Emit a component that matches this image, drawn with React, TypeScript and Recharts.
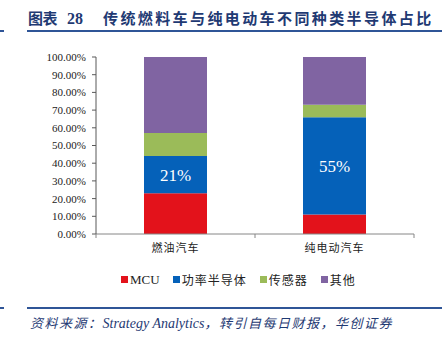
import { BarChart, Bar, XAxis, YAxis, LabelList } from "recharts";

const categories = ["燃油汽车", "纯电动汽车"];
const mcu = [23, 11];
const power = [21, 55];
const sensor = [13, 7];
const other = [43, 27];
const yTicks = [0, 10, 20, 30, 40, 50, 60, 70, 80, 90, 100];

const seriesNames = ["MCU", "功率半导体", "传感器", "其他"];
const seriesColors = ["#E3121B", "#0561B9", "#9BBB59", "#8064A2"];

const chartData = categories.map((name, i) => ({
  name,
  mcu: mcu[i],
  power: power[i],
  sensor: sensor[i],
  other: other[i],
}));

const PLOT_LEFT = 96;
const PLOT_RIGHT = 414;
const HALF_BAND = (PLOT_RIGHT - PLOT_LEFT) / categories.length / 2;
const TICK_SIZE = 4;
const TICK_MARGIN = 5;

const CategoryTick = (props: any) => {
  const { x, y, payload, index } = props;
  const axisY = y - TICK_SIZE - TICK_MARGIN;
  return (
    <g>
      {index === 0 && (
        <line x1={x - HALF_BAND} x2={x - HALF_BAND} y1={axisY} y2={axisY + 4} stroke="#868686" />
      )}
      <line x1={x + HALF_BAND} x2={x + HALF_BAND} y1={axisY} y2={axisY + 4} stroke="#868686" />
      <text
        x={x}
        y={y}
        dy="0.85em"
        textAnchor="middle"
        fontSize={11}
        fill="#222"
        style={{ letterSpacing: 1, fontFamily: "'Noto Sans CJK SC'" }}
      >
        {payload.value}
      </text>
    </g>
  );
};

export default function App() {
  return (
    <div
      style={{
        position: "relative",
        width: 442,
        height: 349,
        background: "#fff",
        overflow: "hidden",
        fontFamily: "'Noto Sans CJK SC', sans-serif",
      }}
    >
      <style>{"body{margin:0}"}</style>
      {/* title */}
      <div
        style={{
          position: "absolute",
          left: 28,
          top: 7,
          fontSize: 15,
          fontWeight: 700,
          color: "#1F3A73",
          whiteSpace: "nowrap",
        }}
      >
        <span style={{ letterSpacing: -0.5 }}>图表</span>
        <span style={{ fontFamily: "'Liberation Serif'", fontSize: 16, marginLeft: 10 }}>28</span>
        <span style={{ marginLeft: 20, letterSpacing: 2.4 }}>
          传统燃料车与纯电动车不同种类半导体占比
        </span>
      </div>
      <div style={{ position: "absolute", left: 27, right: 0, top: 30, height: 2, background: "#2F5597" }} />
      <div style={{ position: "absolute", left: 0, width: 4, top: 30, height: 2, background: "#2F5597" }} />

      <div style={{ position: "absolute", left: 0, top: 0 }}>
        <BarChart
          width={442}
          height={349}
          data={chartData}
          margin={{ top: 57, right: 442 - PLOT_RIGHT, left: 0, bottom: 0 }}
        >
          <XAxis
            dataKey="name"
            height={115}
            axisLine={{ stroke: "#868686" }}
            tickLine={false}
            tickSize={TICK_SIZE}
            tickMargin={TICK_MARGIN}
            tick={<CategoryTick />}
            interval={0}
          />
          <YAxis
            width={PLOT_LEFT}
            domain={[0, 100]}
            ticks={yTicks}
            interval={0}
            axisLine={{ stroke: "#595959" }}
            tickLine={{ stroke: "#595959" }}
            tickSize={4}
            tickMargin={6}
            tick={{ fontSize: 11, fill: "#222", fontFamily: "'Liberation Serif'" }}
            tickFormatter={(v: number) => `${v.toFixed(2)}%`}
          />
          <Bar dataKey="mcu" stackId="a" fill={seriesColors[0]} barSize={63} isAnimationActive={false} />
          <Bar dataKey="power" stackId="a" fill={seriesColors[1]} barSize={63} isAnimationActive={false}>
            <LabelList
              dataKey="power"
              position="center"
              fill="#fff"
              fontSize={17}
              fontFamily="'Liberation Serif'"
              formatter={(v: any) => `${v}%`}
            />
          </Bar>
          <Bar dataKey="sensor" stackId="a" fill={seriesColors[2]} barSize={63} isAnimationActive={false} />
          <Bar dataKey="other" stackId="a" fill={seriesColors[3]} barSize={63} isAnimationActive={false} />
        </BarChart>
      </div>

      {/* legend */}
      <div
        style={{
          position: "absolute",
          left: 121,
          top: 271,
          display: "flex",
          alignItems: "center",
          fontSize: 12,
          color: "#222",
          whiteSpace: "nowrap",
        }}
      >
        {seriesNames.map((n, i) => (
          <div key={n} style={{ display: "flex", alignItems: "center", marginRight: 13 }}>
            <span style={{ width: 7, height: 7, background: seriesColors[i], marginRight: 2 }} />
            <span
              style={{
                fontFamily: i === 0 ? "'Liberation Serif'" : "'Noto Sans CJK SC'",
                fontSize: i === 0 ? 13 : 12,
                letterSpacing: i === 0 ? 0 : 1,
              }}
            >
              {n}
            </span>
          </div>
        ))}
      </div>

      {/* footer */}
      <div style={{ position: "absolute", left: 27, right: 0, top: 307, height: 2, background: "#2F5597" }} />
      <div style={{ position: "absolute", left: 0, width: 4, top: 307, height: 2, background: "#2F5597" }} />
      <div
        style={{
          position: "absolute",
          left: 30,
          top: 313,
          fontSize: 13,
          fontStyle: "italic",
          color: "#1F3A73",
          whiteSpace: "nowrap",
          letterSpacing: 1.5,
        }}
      >
        资料来源：
        <span style={{ fontFamily: "'Liberation Serif'", fontSize: 14, letterSpacing: 0 }}>Strategy Analytics</span>
        ，转引自每日财报，华创证券
      </div>
    </div>
  );
}
